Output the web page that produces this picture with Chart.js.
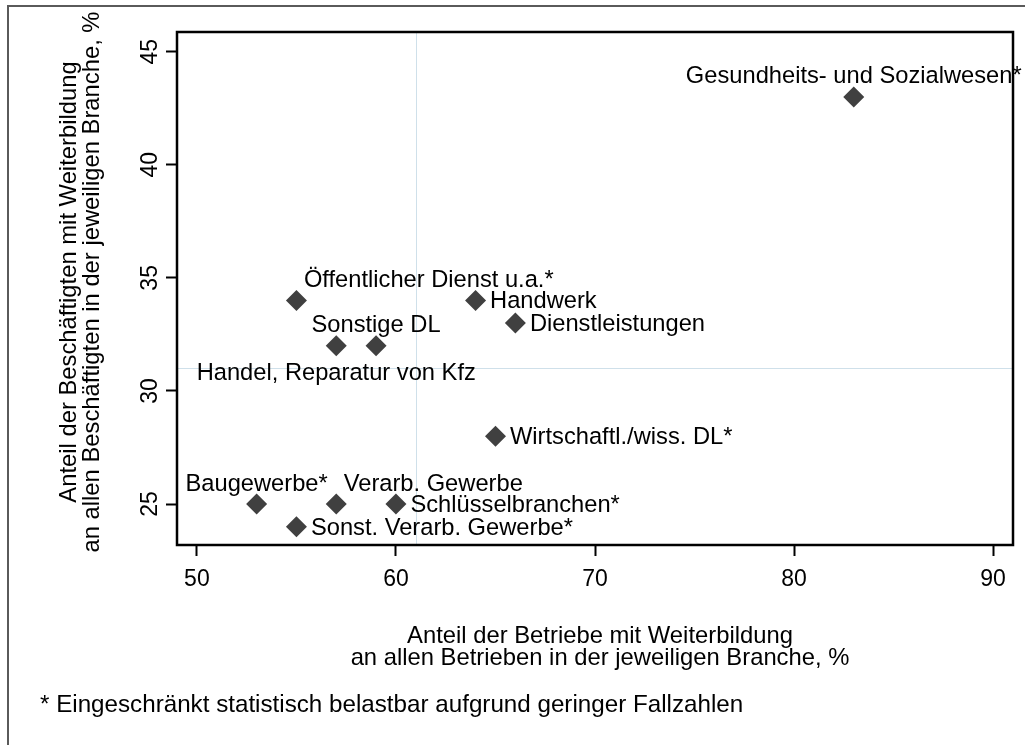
<!DOCTYPE html>
<html>
<head>
<meta charset="utf-8">
<script src="https://cdn.jsdelivr.net/npm/chart.js@4"></script>
<style>
  body { margin: 0; background: #fff; }
  #wrap { width: 1025px; height: 745px; }
</style>
</head>
<body>
<div id="wrap"><canvas id="weiterbildungChart" width="1025" height="745"></canvas></div>
<script>
// Branchen und Werte (Anteil Betriebe / Anteil Beschäftigte mit Weiterbildung, %)
const branchen = [
  'Gesundheits- und Sozialwesen*',
  'Öffentlicher Dienst u.a.*',
  'Handwerk',
  'Dienstleistungen',
  'Sonstige DL',
  'Handel, Reparatur von Kfz',
  'Wirtschaftl./wiss. DL*',
  'Baugewerbe*',
  'Verarb. Gewerbe',
  'Schlüsselbranchen*',
  'Sonst. Verarb. Gewerbe*'
];
const anteilBetriebe     = [83, 55, 64, 66, 59, 57, 65, 53, 57, 60, 55];
const anteilBeschaeftigte = [43, 34, 34, 33, 32, 32, 28, 25, 25, 25, 24];
const mittelBetriebe = 61;
const mittelBeschaeftigte = 31;

const xTicks = [50, 60, 70, 80, 90];
const yTicks = [25, 30, 35, 40, 45];

const xTitle = ['Anteil der Betriebe mit Weiterbildung', 'an allen Betrieben in der jeweiligen Branche, %'];
const yTitle = ['Anteil der Beschäftigten mit Weiterbildung', 'an allen Beschäftigten in der jeweiligen Branche, %'];
const fussnote = '* Eingeschränkt statistisch belastbar aufgrund geringer Fallzahlen';

// label placement (clock position, like Stata mlabvpos)
const labelClock = [12, 1, 3, 3, 12, 6, 3, 12, 1, 3, 3];

const FONT = '"Liberation Sans", Arial, sans-serif';

function txt(ctx, s, x, y, align, rot) {
  ctx.save();
  ctx.translate(x, y);
  if (rot) ctx.rotate(rot);
  ctx.textAlign = align;
  ctx.textBaseline = 'alphabetic';
  ctx.fillText(s, 0, 0);
  ctx.restore();
}

const decor = {
  id: 'decor',
  beforeDatasetsDraw(chart) {
    const ctx = chart.ctx;
    const a = chart.chartArea;
    const xs = chart.scales.x, ys = chart.scales.y;
    ctx.save();
    ctx.strokeStyle = '#cfe0ea';
    ctx.lineWidth = 1;
    const mx = Math.round(xs.getPixelForValue(mittelBetriebe)) + 0.5;
    const my = Math.round(ys.getPixelForValue(mittelBeschaeftigte)) + 0.5;
    ctx.beginPath();
    ctx.moveTo(mx, a.top); ctx.lineTo(mx, a.bottom);
    ctx.moveTo(a.left, my); ctx.lineTo(a.right, my);
    ctx.stroke();
    ctx.restore();
  },
  afterDraw(chart) {
    const ctx = chart.ctx;
    const a = chart.chartArea;
    const ys = chart.scales.y;
    ctx.save();
    // plot frame
    ctx.strokeStyle = '#000';
    ctx.lineWidth = 2.5;
    ctx.strokeRect(a.left, a.top, a.right - a.left, a.bottom - a.top);
    // outer frame (right and bottom edges fall outside the picture)
    ctx.strokeStyle = '#5a5a5a';
    ctx.lineWidth = 2;
    ctx.strokeRect(8, 6, 1030, 750);

    ctx.fillStyle = '#000';
    // y tick labels, rotated
    ctx.font = '23px ' + FONT;
    yTicks.forEach(v => txt(ctx, String(v), 157, ys.getPixelForValue(v), 'center', -Math.PI / 2));

    // point labels
    ctx.font = '23.7px ' + FONT;
    const meta = chart.getDatasetMeta(0);
    meta.data.forEach((pt, i) => {
      const c = labelClock[i];
      if (c === 12) txt(ctx, branchen[i], pt.x, pt.y - 13.5, 'center');
      else if (c === 1) txt(ctx, branchen[i], pt.x + 7.5, pt.y - 13, 'left');
      else if (c === 3) txt(ctx, branchen[i], pt.x + 14.5, pt.y + 8, 'left');
      else if (c === 6) txt(ctx, branchen[i], pt.x, pt.y + 34.5, 'center');
    });

    // axis titles
    ctx.font = '23.8px ' + FONT;
    txt(ctx, xTitle[0], 600, 643, 'center');
    txt(ctx, xTitle[1], 600, 665, 'center');
    txt(ctx, yTitle[0], 76, 282, 'center', -Math.PI / 2);
    txt(ctx, yTitle[1], 99, 282, 'center', -Math.PI / 2);

    // footnote
    ctx.font = '24.2px ' + FONT;
    txt(ctx, fussnote, 40, 712, 'left');
    ctx.restore();
  }
};

const ctx = document.getElementById('weiterbildungChart').getContext('2d');
const chart = new Chart(ctx, {
  type: 'scatter',
  data: {
    datasets: [{
      label: 'Branchen',
      data: anteilBetriebe.map((x, i) => ({ x: x, y: anteilBeschaeftigte[i] })),
      pointStyle: 'rectRot',
      pointRadius: 10.5,
      pointHoverRadius: 10.5,
      backgroundColor: '#404040',
      borderColor: '#404040',
      borderWidth: 0
    }]
  },
  options: {
    responsive: false,
    animation: false,
    events: [],
    layout: { padding: { top: 32, right: 12, left: 0, bottom: 0 } },
    plugins: {
      legend: { display: false },
      tooltip: { enabled: false }
    },
    scales: {
      x: {
        type: 'linear',
        min: 49,
        max: 91,
        afterBuildTicks: s => { s.ticks = xTicks.map(v => ({ value: v })); },
        afterFit: s => { s.height = 200; },
        ticks: {
          color: '#000',
          font: { family: FONT, size: 23 },
          padding: 10,
          maxRotation: 0
        },
        grid: { drawOnChartArea: false, drawTicks: true, tickLength: 11, tickWidth: 2, tickColor: '#000' },
        border: { display: false }
      },
      y: {
        type: 'linear',
        min: 23.19,
        max: 45.87,
        afterBuildTicks: s => { s.ticks = yTicks.map(v => ({ value: v })); },
        afterFit: s => { s.width = 177; },
        ticks: { display: false },
        grid: { drawOnChartArea: false, drawTicks: true, tickLength: 11, tickWidth: 2, tickColor: '#000' },
        border: { display: false }
      }
    }
  },
  plugins: [decor]
});
</script>
</body>
</html>
